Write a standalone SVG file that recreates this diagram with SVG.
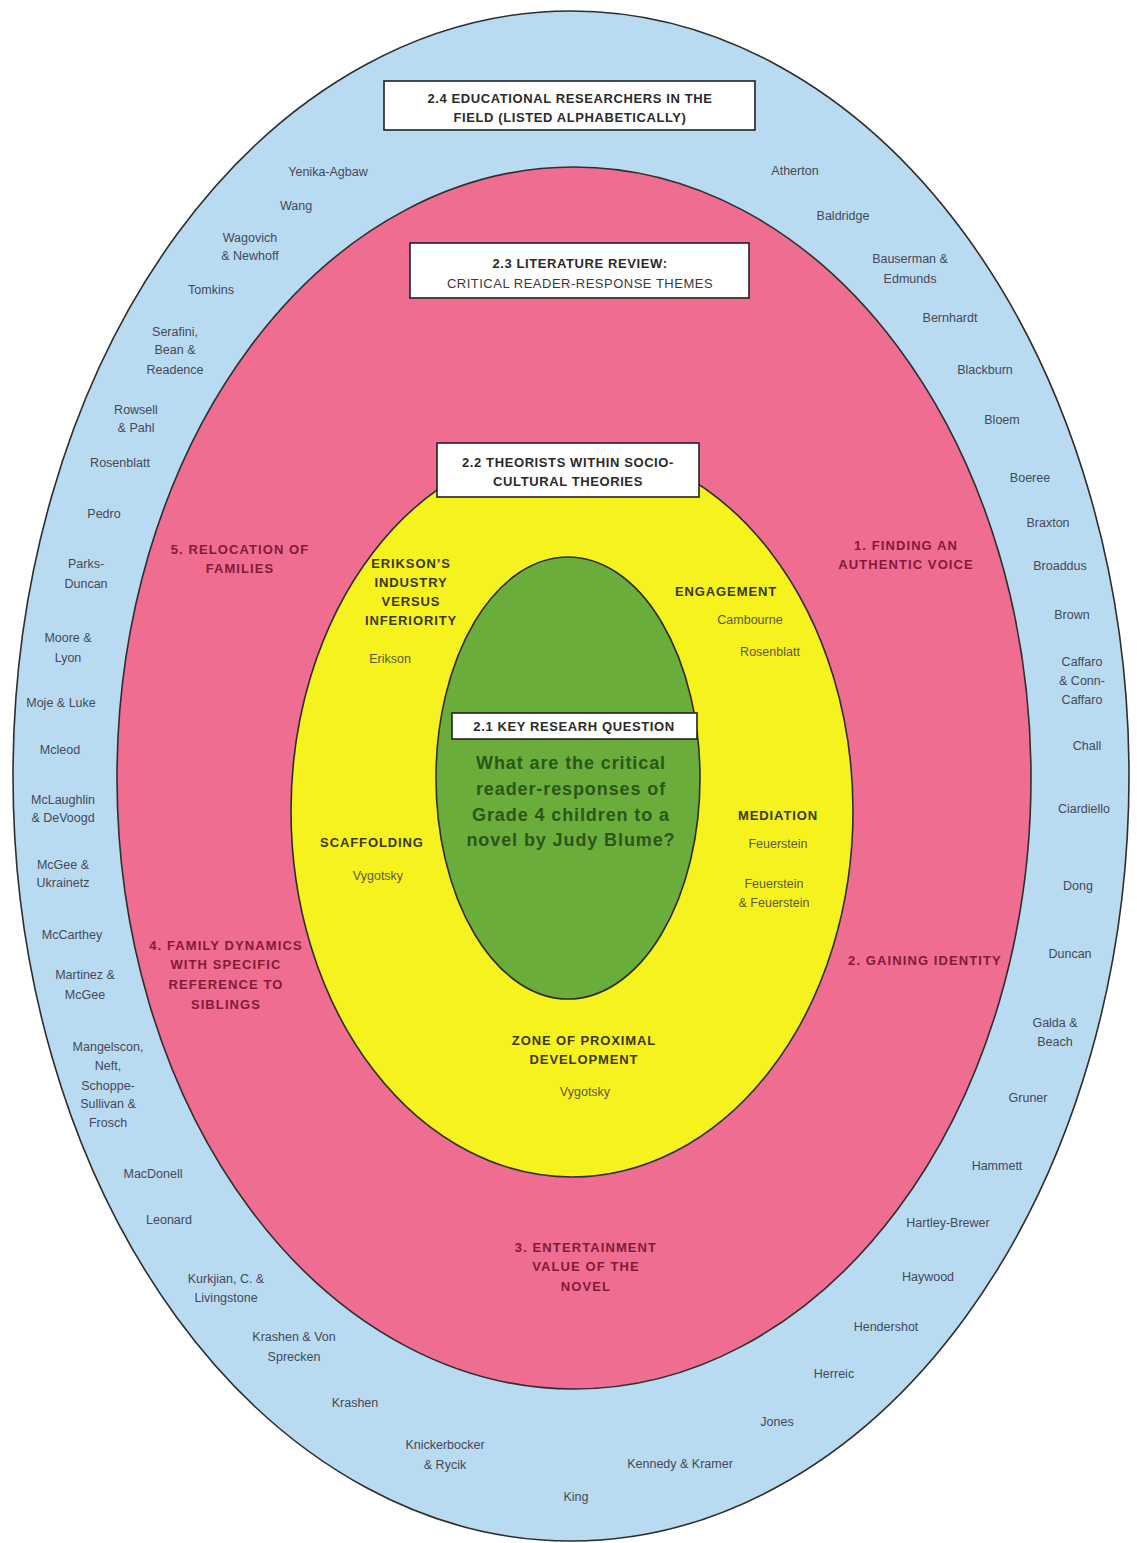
<svg xmlns="http://www.w3.org/2000/svg" width="1137" height="1543" viewBox="0 0 1137 1543">
<style>
  text { font-family: "Liberation Sans", Arial, sans-serif; text-anchor: middle; }
  .ring { stroke: #2e2e2e; stroke-width: 1.6; }
  .box { fill: #ffffff; stroke: #222; stroke-width: 1.6; }
  .boxh { font-size: 13px; font-weight: bold; fill: #2b2b2b; letter-spacing: 0.6px; }
  .boxn { font-size: 13px; fill: #3a3a3a; letter-spacing: 0.5px; }
  .name { font-size: 12.5px; fill: #454856; }
  .theme { font-size: 13px; font-weight: bold; fill: #831a38; letter-spacing: 1.1px; }
  .theory { font-size: 13px; font-weight: bold; fill: #3a3810; letter-spacing: 0.9px; }
  .theorist { font-size: 12.5px; fill: #5c5a35; }
  .q { font-size: 18px; font-weight: bold; fill: #2c5619; letter-spacing: 0.9px; }
</style>

<g id="ring-researchers">
  <ellipse class="ring" cx="571" cy="776" rx="558" ry="765" fill="#b9dbf2"/>
</g>
<g id="ring-literature">
  <ellipse class="ring" cx="574" cy="778" rx="457" ry="611" fill="#ee6d90"/>
</g>
<g id="ring-theorists">
  <ellipse class="ring" cx="572" cy="811" rx="281" ry="366" fill="#f6f21e"/>
</g>
<g id="core-question">
  <ellipse class="ring" cx="568" cy="778" rx="132" ry="221" fill="#6aad3b"/>
</g>

<g id="connectors"></g>

<g id="label-2-4">
  <rect class="box" x="384" y="81" width="371" height="49"/>
  <text class="boxh" x="570" y="103">2.4 EDUCATIONAL RESEARCHERS IN THE</text>
  <text class="boxh" x="570" y="122">FIELD (LISTED ALPHABETICALLY)</text>
</g>
<g id="label-2-3">
  <rect class="box" x="410" y="243" width="339" height="55"/>
  <text class="boxh" x="580" y="268">2.3 LITERATURE REVIEW:</text>
  <text class="boxn" x="580" y="288">CRITICAL READER-RESPONSE THEMES</text>
</g>
<g id="label-2-2">
  <rect class="box" x="437" y="443" width="262" height="54"/>
  <text class="boxh" x="568" y="467">2.2 THEORISTS WITHIN SOCIO-</text>
  <text class="boxh" x="568" y="486">CULTURAL THEORIES</text>
</g>
<g id="label-2-1">
  <rect class="box" x="452" y="713" width="245" height="26"/>
  <text class="boxh" x="574" y="731">2.1 KEY RESEARH QUESTION</text>
</g>
<g id="question">
  <text class="q" x="571" y="769">What are the critical</text>
  <text class="q" x="571" y="795">reader-responses of</text>
  <text class="q" x="571" y="821">Grade 4 children to a</text>
  <text class="q" x="571" y="846">novel by Judy Blume?</text>
</g>

<g id="theory-erikson">
  <text class="theory" x="411" y="568">ERIKSON’S</text>
  <text class="theory" x="411" y="587">INDUSTRY</text>
  <text class="theory" x="411" y="606">VERSUS</text>
  <text class="theory" x="411" y="625">INFERIORITY</text>
  <text class="theorist" x="390" y="663">Erikson</text>
</g>
<g id="theory-engagement">
  <text class="theory" x="726" y="596">ENGAGEMENT</text>
  <text class="theorist" x="750" y="624">Cambourne</text>
  <text class="theorist" x="770" y="656">Rosenblatt</text>
</g>
<g id="theory-mediation">
  <text class="theory" x="778" y="820">MEDIATION</text>
  <text class="theorist" x="778" y="848">Feuerstein</text>
  <text class="theorist" x="774" y="888">Feuerstein</text>
  <text class="theorist" x="774" y="907">&amp; Feuerstein</text>
</g>
<g id="theory-scaffolding">
  <text class="theory" x="372" y="847">SCAFFOLDING</text>
  <text class="theorist" x="378" y="880">Vygotsky</text>
</g>
<g id="theory-zpd">
  <text class="theory" x="584" y="1045">ZONE OF PROXIMAL</text>
  <text class="theory" x="584" y="1064">DEVELOPMENT</text>
  <text class="theorist" x="585" y="1096">Vygotsky</text>
</g>

<g id="theme-1">
  <text class="theme" x="906" y="550">1. FINDING AN</text>
  <text class="theme" x="906" y="569">AUTHENTIC VOICE</text>
</g>
<g id="theme-2">
  <text class="theme" x="925" y="965">2. GAINING IDENTITY</text>
</g>
<g id="theme-3">
  <text class="theme" x="586" y="1252">3. ENTERTAINMENT</text>
  <text class="theme" x="586" y="1271">VALUE OF THE</text>
  <text class="theme" x="586" y="1291">NOVEL</text>
</g>
<g id="theme-4">
  <text class="theme" x="226" y="950">4. FAMILY DYNAMICS</text>
  <text class="theme" x="226" y="969">WITH SPECIFIC</text>
  <text class="theme" x="226" y="989">REFERENCE TO</text>
  <text class="theme" x="226" y="1009">SIBLINGS</text>
</g>
<g id="theme-5">
  <text class="theme" x="240" y="554">5. RELOCATION OF</text>
  <text class="theme" x="240" y="573">FAMILIES</text>
</g>

<g id="researchers-left">
  <text class="name" x="328" y="176">Yenika-Agbaw</text>
  <text class="name" x="296" y="210">Wang</text>
  <text class="name" x="250" y="242">Wagovich</text>
  <text class="name" x="250" y="260">&amp; Newhoff</text>
  <text class="name" x="211" y="294">Tomkins</text>
  <text class="name" x="175" y="336">Serafini,</text>
  <text class="name" x="175" y="354">Bean &amp;</text>
  <text class="name" x="175" y="374">Readence</text>
  <text class="name" x="136" y="414">Rowsell</text>
  <text class="name" x="136" y="432">&amp; Pahl</text>
  <text class="name" x="120" y="467">Rosenblatt</text>
  <text class="name" x="104" y="518">Pedro</text>
  <text class="name" x="86" y="568">Parks-</text>
  <text class="name" x="86" y="588">Duncan</text>
  <text class="name" x="68" y="642">Moore &amp;</text>
  <text class="name" x="68" y="662">Lyon</text>
  <text class="name" x="61" y="707">Moje &amp; Luke</text>
  <text class="name" x="60" y="754">Mcleod</text>
  <text class="name" x="63" y="804">McLaughlin</text>
  <text class="name" x="63" y="822">&amp; DeVoogd</text>
  <text class="name" x="63" y="869">McGee &amp;</text>
  <text class="name" x="63" y="887">Ukrainetz</text>
  <text class="name" x="72" y="939">McCarthey</text>
  <text class="name" x="85" y="979">Martinez &amp;</text>
  <text class="name" x="85" y="999">McGee</text>
  <text class="name" x="108" y="1051">Mangelscon,</text>
  <text class="name" x="108" y="1070">Neft,</text>
  <text class="name" x="108" y="1090">Schoppe-</text>
  <text class="name" x="108" y="1108">Sullivan &amp;</text>
  <text class="name" x="108" y="1127">Frosch</text>
  <text class="name" x="153" y="1178">MacDonell</text>
  <text class="name" x="169" y="1224">Leonard</text>
  <text class="name" x="226" y="1283">Kurkjian, C. &amp;</text>
  <text class="name" x="226" y="1302">Livingstone</text>
  <text class="name" x="294" y="1341">Krashen &amp; Von</text>
  <text class="name" x="294" y="1361">Sprecken</text>
  <text class="name" x="355" y="1407">Krashen</text>
  <text class="name" x="445" y="1449">Knickerbocker</text>
  <text class="name" x="445" y="1469">&amp; Rycik</text>
  <text class="name" x="576" y="1501">King</text>
</g>

<g id="researchers-right">
  <text class="name" x="795" y="175">Atherton</text>
  <text class="name" x="843" y="220">Baldridge</text>
  <text class="name" x="910" y="263">Bauserman &amp;</text>
  <text class="name" x="910" y="283">Edmunds</text>
  <text class="name" x="950" y="322">Bernhardt</text>
  <text class="name" x="985" y="374">Blackburn</text>
  <text class="name" x="1002" y="424">Bloem</text>
  <text class="name" x="1030" y="482">Boeree</text>
  <text class="name" x="1048" y="527">Braxton</text>
  <text class="name" x="1060" y="570">Broaddus</text>
  <text class="name" x="1072" y="619">Brown</text>
  <text class="name" x="1082" y="666">Caffaro</text>
  <text class="name" x="1082" y="685">&amp; Conn-</text>
  <text class="name" x="1082" y="704">Caffaro</text>
  <text class="name" x="1087" y="750">Chall</text>
  <text class="name" x="1084" y="813">Ciardiello</text>
  <text class="name" x="1078" y="890">Dong</text>
  <text class="name" x="1070" y="958">Duncan</text>
  <text class="name" x="1055" y="1027">Galda &amp;</text>
  <text class="name" x="1055" y="1046">Beach</text>
  <text class="name" x="1028" y="1102">Gruner</text>
  <text class="name" x="997" y="1170">Hammett</text>
  <text class="name" x="948" y="1227">Hartley-Brewer</text>
  <text class="name" x="928" y="1281">Haywood</text>
  <text class="name" x="886" y="1331">Hendershot</text>
  <text class="name" x="834" y="1378">Herreic</text>
  <text class="name" x="777" y="1426">Jones</text>
  <text class="name" x="680" y="1468">Kennedy &amp; Kramer</text>
</g>
</svg>
